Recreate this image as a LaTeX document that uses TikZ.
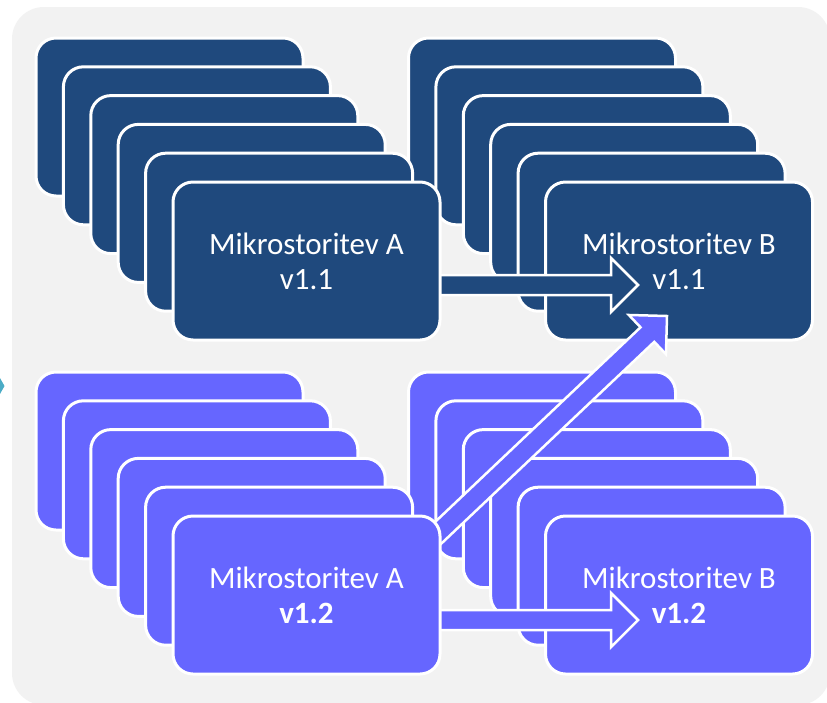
\documentclass[tikz,border=0pt]{standalone}
\usepackage{fontspec}
\setmainfont{Carlito}
\usetikzlibrary{calc}
\definecolor{darkcard}{HTML}{1F497D}
\definecolor{lightcard}{HTML}{6666FF}
\definecolor{panel}{HTML}{F2F2F2}
\definecolor{marker}{HTML}{4BACC6}

% block arrow from #1 (tail) to #2 (tip), filled with #3
\newcommand\blockarrow[3]{%
  \draw[arrowbody=#3] let \p1=(#1), \p2=(#2),
      \n1={atan2(\y2-\y1,\x2-\x1)}, \n2={veclen(\x2-\x1,\y2-\y1)} in
    ($(#1)+(\n1+90:10pt)$)
    -- ($(#1)+(\n1+90:10pt)+(\n1:\n2-27pt)$)
    -- ($(#1)+(\n1+90:27pt)+(\n1:\n2-27pt)$)
    -- (#2)
    -- ($(#1)+(\n1-90:27pt)+(\n1:\n2-27pt)$)
    -- ($(#1)+(\n1-90:10pt)+(\n1:\n2-27pt)$)
    -- ($(#1)+(\n1-90:10pt)$) -- cycle;}

\begin{document}
\begin{tikzpicture}[x=1pt,y=-1pt,
  card/.style={draw=white, line width=3pt, rounded corners=20pt,
    minimum width=267pt, minimum height=158pt, inner sep=0pt, outer sep=0pt,
    fill=#1, text=white, align=center,
    font=\fontsize{31}{35}\selectfont},
  arrowbody/.style={draw=white, line width=2.5pt, line join=miter, fill=#1}]
\useasboundingbox (0,0) rectangle (827,702);
\clip (0,0) rectangle (827,702);
\fill[white] (0,0) rectangle (827,702);
\fill[panel, rounded corners=32pt] (12,7) rectangle (830,705);
\fill[marker] (-4,371) -- (4.5,386) -- (-4,401) -- cycle;

% right-hand stacks (service B)
\foreach \i in {1,...,5}
  \node[card=darkcard] (tb\i) at ({542+(\i-1)*27.4}, {117+(\i-1)*28.8}) {};
\node[card=darkcard] (tb6) at (679, 261) {Mikrostoritev B\\v1.1};
\foreach \i in {1,...,5}
  \node[card=lightcard] (bb\i) at ({542+(\i-1)*27.4}, {451+(\i-1)*28.8}) {};
\node[card=lightcard] (bb6) at (679, 595) {Mikrostoritev B\\\textbf{v1.2}};

% calls between the versions
\coordinate (ta6out) at (430,285);
\coordinate (ba6out) at (430,620);
\coordinate (ba6diag) at (420,550);
\coordinate (tb6in) at ([shift={(-41,24)}]tb6.center);
\coordinate (bb6in) at ([shift={(-41,25)}]bb6.center);
\coordinate (tb6diag) at ([shift={(-12,-24)}]tb6.south);
\blockarrow{ta6out}{tb6in}{darkcard}
\blockarrow{ba6out}{bb6in}{lightcard}
\blockarrow{ba6diag}{tb6diag}{lightcard}

% left-hand stacks (service A)
\foreach \i in {1,...,5}
  \node[card=darkcard] (ta\i) at ({169.5+(\i-1)*27.4}, {117+(\i-1)*28.8}) {};
\node[card=darkcard] (ta6) at (306.5, 261) {Mikrostoritev A\\v1.1};
\foreach \i in {1,...,5}
  \node[card=lightcard] (ba\i) at ({169.5+(\i-1)*27.4}, {451+(\i-1)*28.8}) {};
\node[card=lightcard] (ba6) at (306.5, 595) {Mikrostoritev A\\\textbf{v1.2}};
\end{tikzpicture}
\end{document}
